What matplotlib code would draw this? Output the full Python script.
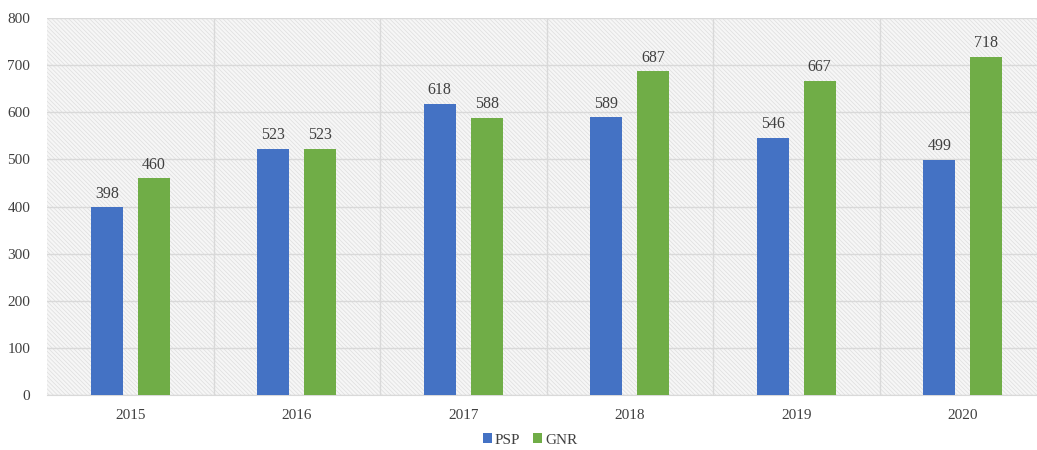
import matplotlib
matplotlib.use("Agg")
import matplotlib.pyplot as plt
from matplotlib.patches import Rectangle
import numpy as np

years = ["2015", "2016", "2017", "2018", "2019", "2020"]
psp = [398, 523, 618, 589, 546, 499]
gnr = [460, 523, 588, 687, 667, 718]

plt.rcParams['font.family'] = ['Liberation Serif', 'DejaVu Serif']
plt.rcParams['hatch.linewidth'] = 0.5
plt.rcParams['hatch.color'] = '#dedede'

W, H = 1037, 450
fig = plt.figure(figsize=(W/100, H/100), dpi=100)
left, right, top, bottom = 47, 1046, 18, 395
ax = fig.add_axes([left/W, 1-bottom/H, (right-left)/W, (bottom-top)/H])
ax.set_facecolor('#f6f6f6')
ax.add_patch(Rectangle((0, 0), 1, 1, transform=ax.transAxes, facecolor='none',
                       edgecolor='#dedede', hatch='\\' * 8, linewidth=0, zorder=0))

x = np.arange(len(years))
off, w = 0.141, 0.192
c1, c2 = '#4472c4', '#70ad47'
b1 = ax.bar(x - off, psp, w, color=c1, label='PSP', zorder=3)
b2 = ax.bar(x + off, gnr, w, color=c2, label='GNR', zorder=3)
for bars, vals in ((b1, psp), (b2, gnr)):
    for r, v in zip(bars, vals):
        ax.text(r.get_x() + r.get_width()/2, v + 12, str(v), ha='center', va='bottom',
                fontsize=11.5, color='#404040', zorder=4)

ax.set_xlim(-0.5, 5.5)
ax.set_ylim(0, 800)
ax.set_yticks(range(0, 801, 100))
ax.set_xticks(x)
ax.set_xticklabels(years)
ax.set_xticks(np.arange(0.5, 5.5, 1), minor=True)
ax.grid(axis='y', color='#d9d9d9', linewidth=1, zorder=1)
ax.grid(axis='x', which='minor', color='#d9d9d9', linewidth=1, zorder=1)
ax.grid(axis='x', which='major', visible=False)
ax.tick_params(axis='both', which='both', length=0, labelsize=11, colors='#404040')
ax.tick_params(axis='x', pad=10)
ax.tick_params(axis='y', pad=12)
for s in ['top', 'right', 'left']:
    ax.spines[s].set_visible(False)
ax.spines['bottom'].set_color('#d9d9d9')

leg = fig.legend(handles=[b1, b2], labels=['PSP', 'GNR'], loc='center',
                 bbox_to_anchor=(530/W, 1-440/H), ncol=2, frameon=False,
                 fontsize=11, handlelength=0.6, handleheight=0.6, handletextpad=0.2,
                 columnspacing=0.8)
for t in leg.get_texts():
    t.set_color('#404040')

fig.savefig('out.png', dpi=100, facecolor='white')
